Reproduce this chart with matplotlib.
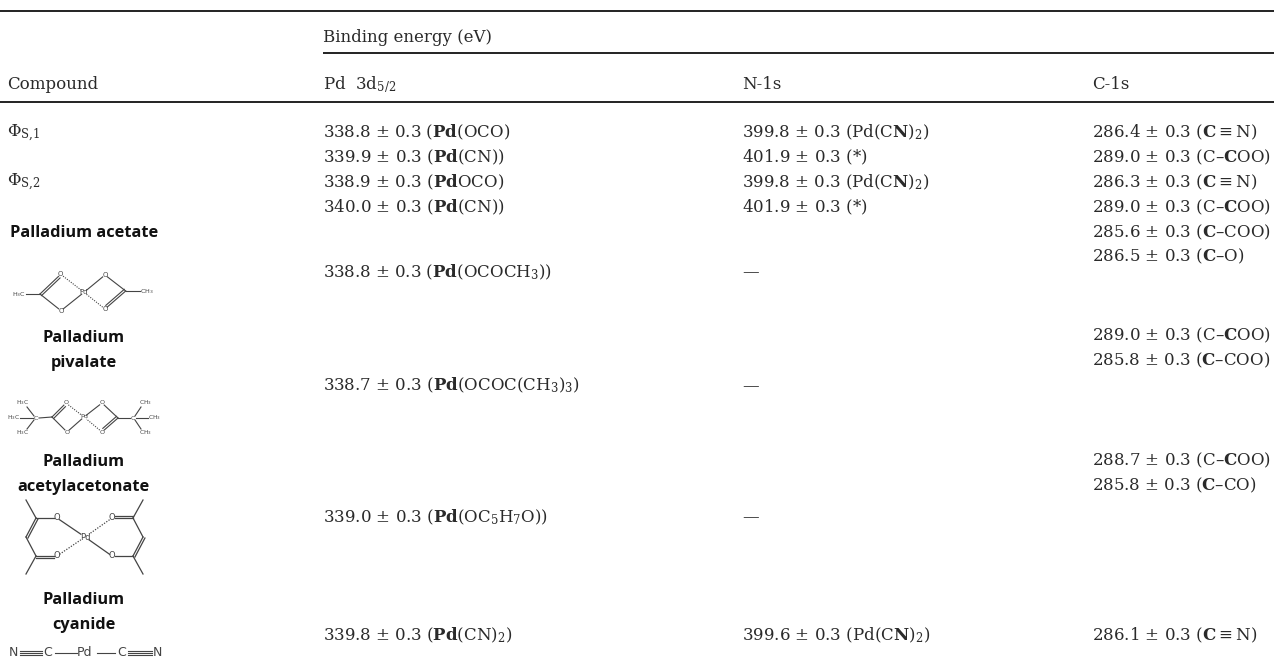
import matplotlib
matplotlib.use("Agg")
import matplotlib.pyplot as plt
import numpy as np

plt.rcParams['font.family'] = ['DejaVu Serif']
plt.rcParams['mathtext.fontset'] = 'dejavuserif'
plt.rcParams['mathtext.default'] = 'rm'

PM = r" $\pm$ 0.3 "
TB = r"$\equiv$"

header_span = "Binding energy (eV)"
col_names = ["Compound", r"Pd  3d$_{5/2}$", "N-1s", "C-1s"]

phi_labels = [r"$\Phi_{\mathrm{S{,}1}}$", r"$\Phi_{\mathrm{S{,}2}}$"]
phi_y = [137, 186]

compound_names = ["Palladium acetate", "Palladium", "pivalate", "Palladium", "acetylacetonate",
                  "Palladium", "cyanide"]
compound_y = [233, 338, 363, 462, 487, 600, 625]

pd_vals = ["338.8" + PM + r"($\mathbf{Pd}$(OCO)",
           "339.9" + PM + r"($\mathbf{Pd}$(CN))",
           "338.9" + PM + r"($\mathbf{Pd}$OCO)",
           "340.0" + PM + r"($\mathbf{Pd}$(CN))",
           "338.8" + PM + r"($\mathbf{Pd}$(OCOCH$_3$))",
           "338.7" + PM + r"($\mathbf{Pd}$(OCOC(CH$_3$)$_3$)",
           "339.0" + PM + r"($\mathbf{Pd}$(OC$_5$H$_7$O))",
           "339.8" + PM + r"($\mathbf{Pd}$(CN)$_2$)"]
pd_y = [137, 162, 187, 212, 277, 390, 522, 640]

n_vals = ["399.8" + PM + r"(Pd(C$\mathbf{N}$)$_2$)",
          "401.9" + PM + "(*)",
          "399.8" + PM + r"(Pd(C$\mathbf{N}$)$_2$)",
          "401.9" + PM + "(*)",
          "—", "—", "—",
          "399.6" + PM + r"(Pd(C$\mathbf{N}$)$_2$)"]
n_y = [137, 162, 187, 212, 277, 391, 522, 640]

c_vals = ["286.4" + PM + r"($\mathbf{C}$" + TB + "N)",
          "289.0" + PM + r"(C–$\mathbf{C}$OO)",
          "286.3" + PM + r"($\mathbf{C}$" + TB + "N)",
          "289.0" + PM + r"(C–$\mathbf{C}$OO)",
          "285.6" + PM + r"($\mathbf{C}$–COO)",
          "286.5" + PM + r"($\mathbf{C}$–O)",
          "289.0" + PM + r"(C–$\mathbf{C}$OO)",
          "285.8" + PM + r"($\mathbf{C}$–COO)",
          "288.7" + PM + r"(C–$\mathbf{C}$OO)",
          "285.8" + PM + r"($\mathbf{C}$–CO)",
          "286.1" + PM + r"($\mathbf{C}$" + TB + "N)"]
c_y = [137, 162, 187, 212, 237, 261, 340, 365, 465, 490, 640]

fig = plt.figure(figsize=(12.76, 6.57), dpi=100)
ax = fig.add_axes([0, 0, 1, 1])
ax.set_xlim(0, 1276)
ax.set_ylim(657, 0)
ax.axis("off")

TXT = "#2a2a2a"
FS = 12
x_col = [7, 323, 742, 1092]

# rules
ax.plot([0, 1274], [10.7, 10.7], color="#111111", lw=1.3, solid_capstyle="butt")
ax.plot([323, 1274], [52.7, 52.7], color="#111111", lw=1.3, solid_capstyle="butt")
ax.plot([0, 1274], [101.7, 101.7], color="#111111", lw=1.3, solid_capstyle="butt")

ax.text(x_col[1], 41.5, header_span, fontsize=FS, color=TXT, va="baseline")
for x, name in zip(x_col, col_names):
    ax.text(x, 89, name, fontsize=FS, color=TXT, va="baseline")


def column(x, vals, ys):
    for v, y in zip(vals, ys):
        ax.text(x, y, v, fontsize=FS, color=TXT, va="baseline")


column(x_col[0], phi_labels, phi_y)
column(x_col[1], pd_vals, pd_y)
column(x_col[2], n_vals, n_y)
column(x_col[3], c_vals, c_y)

# bold sans compound names
for name, y in zip(compound_names, compound_y):
    ax.text(84, y, name, fontsize=11.8, family="Open Sans", weight="bold",
            color="#111111", ha="center", va="center")

# --- structure sketches ---
GREY = "#444444"


def bond(p, q, kind="single", lw=0.8, trim=(0, 0), side=1):
    p, q = np.array(p, float), np.array(q, float)
    d = q - p
    L = np.hypot(*d)
    u = d / L
    a = p + u * trim[0]
    b = q - u * trim[1]
    if kind == "dotted":
        ax.plot([a[0], b[0]], [a[1], b[1]], color=GREY, lw=lw, ls=(0, (1, 1.2)))
        return
    ax.plot([a[0], b[0]], [a[1], b[1]], color=GREY, lw=lw)
    if kind == "double":
        n = np.array([-u[1], u[0]]) * 2.2 * side
        ax.plot([a[0] + n[0], b[0] + n[0]], [a[1] + n[1], b[1] + n[1]], color=GREY, lw=lw)
    if kind == "triple":
        n = np.array([-u[1], u[0]]) * 2.2
        for s in (1, -1):
            ax.plot([a[0] + s * n[0], b[0] + s * n[0]], [a[1] + s * n[1], b[1] + s * n[1]],
                    color=GREY, lw=lw)


def atom(x, y, s, fs=5):
    ax.text(x, y, s, fontsize=fs, family="DejaVu Sans", color=GREY, ha="center", va="center",
            math_fontfamily="dejavusans")


# acetate
bond((26, 294), (40, 294))
bond((40, 294), (60.7, 274.3), "double", trim=(0, 3), side=1)
bond((40, 294), (61, 310.7), trim=(0, 3))
bond((60.7, 274.3), (84, 292.3), "dotted", trim=(3, 3))
bond((61, 310.7), (84, 292.3), trim=(3, 3))
bond((105, 275), (84, 292.3), trim=(3, 3))
bond((105, 309), (84, 292.3), "dotted", trim=(3, 3))
bond((125.7, 291), (105, 275), trim=(0, 3))
bond((125.7, 291), (105, 309), "double", trim=(0, 3), side=1)
bond((125.7, 291), (140, 291))
atom(60.7, 274.3, "O")
atom(61, 310.7, "O")
atom(105, 275, "O")
atom(105, 309, "O")
atom(84, 292.3, "Pd")
atom(19, 294.5, r"H$_3$C", 4.6)
atom(147, 292, r"CH$_3$", 4.6)

# pivalate
bond((20, 418), (33, 418))
bond((27, 407), (34, 416))
bond((27, 429), (34, 420))
bond((39, 418), (52, 417))
bond((52, 417), (66, 403), "double", trim=(0, 3), side=1)
bond((52, 417), (67, 432), trim=(0, 3))
bond((66, 403), (84, 417), "dotted", trim=(3, 3))
bond((67, 432), (84, 417), trim=(3, 3))
bond((102, 403), (84, 417), trim=(3, 3))
bond((102, 432), (84, 417), "dotted", trim=(3, 3))
bond((118, 418), (102, 403), trim=(0, 3))
bond((118, 418), (102, 432), "double", trim=(0, 3), side=1)
bond((118, 418), (130, 418))
bond((136, 418), (148, 418))
bond((135, 416), (141, 407))
bond((135, 420), (141, 429))
for x, y in [(66, 403), (67, 432), (102, 403), (102, 432)]:
    atom(x, y, "O", 4.6)
atom(84, 417, "Pd", 4.6)
atom(23, 403, r"H$_3$C", 4.2)
atom(14, 418, r"H$_3$C", 4.2)
atom(23, 433, r"H$_3$C", 4.2)
atom(145, 403, r"CH$_3$", 4.2)
atom(154, 418, r"CH$_3$", 4.2)
atom(145, 433, r"CH$_3$", 4.2)
atom(36, 418, "C", 4.6)
atom(133, 418, "C", 4.6)

# acetylacetonate
bond((26, 500), (36, 518), lw=0.9)
bond((26, 574), (36, 556), lw=0.9)
bond((36, 518), (26, 537), "double", lw=0.9, side=-1)
bond((26, 537), (36, 556), lw=0.9)
bond((36, 518), (57, 518), lw=0.9, trim=(0, 3))
bond((36, 556), (57, 556), "double", lw=0.9, trim=(0, 3), side=1)
bond((57, 518), (85, 537), lw=0.9, trim=(3, 5))
bond((57, 556), (85, 537), "dotted", lw=0.9, trim=(3, 5))
bond((143, 500), (133, 518), lw=0.9)
bond((143, 574), (133, 556), lw=0.9)
bond((133, 518), (143, 537), lw=0.9)
bond((143, 537), (133, 556), "double", lw=0.9, side=-1)
bond((133, 518), (112, 518), "double", lw=0.9, trim=(0, 3), side=1)
bond((133, 556), (112, 556), lw=0.9, trim=(0, 3))
bond((112, 518), (85, 537), "dotted", lw=0.9, trim=(3, 5))
bond((112, 556), (85, 537), lw=0.9, trim=(3, 5))
for x, y in [(57, 518), (57, 556), (112, 518), (112, 556)]:
    atom(x, y, "O", 6)
atom(85, 537, "Pd", 6)

# cyanide
bond((20, 653), (42, 653), "triple")
bond((55, 653), (77, 653))
bond((97, 653), (115, 653))
bond((128, 653), (152, 653), "triple")
for x, s in [(13, "N"), (48, "C"), (85, "Pd"), (122, "C"), (157, "N")]:
    atom(x, 653, s, 9)

fig.savefig("out.png", dpi=100)
